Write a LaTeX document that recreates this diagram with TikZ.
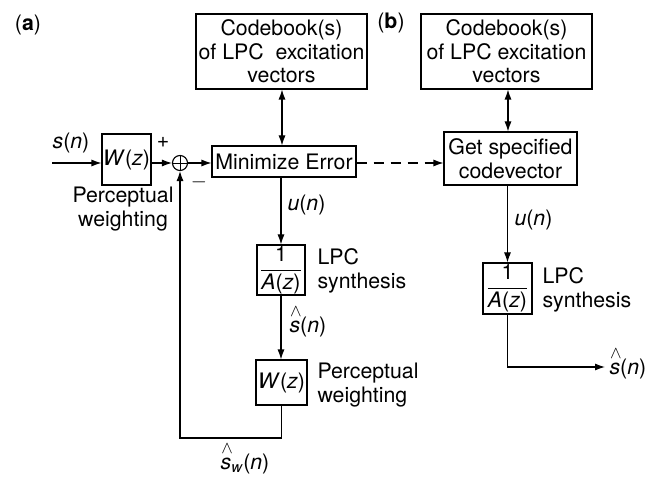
\documentclass[tikz,border=0pt]{standalone}
\usepackage{fontspec}
\setmainfont{TeX Gyre Heros}
\usetikzlibrary{arrows.meta}
\newcommand{\hs}{\makebox[0pt][l]{\makebox[0.6em]{\raisebox{0.72em}{\fontsize{16}{16}\selectfont$\wedge$}}}\textit{s}}
\newcommand{\invA}{$\displaystyle\frac{\mbox{1}}{\mbox{\itshape A\upshape(\itshape z\upshape)}}$}
\begin{document}
\begin{tikzpicture}[x=1pt,y=-1pt,
  font=\fontsize{21.3}{23.5}\selectfont,
  line width=1.1pt,
  >={Latex[length=10pt,width=7pt]},
  blk/.style={draw,inner sep=0pt,align=center},
  lbl/.style={inner sep=0pt,align=left,anchor=west},
  lblc/.style={inner sep=0pt,align=center}]
\useasboundingbox (0,0) rectangle (661,478);
% (a)
\node[lblc] (la) at (28,25) {(\textbf{a})};
\node[lblc] (lb) at (391,23) {(\textbf{b})};
\node[blk,minimum width=171pt,minimum height=75pt] (cba) at (281.5,51.5) {Codebook(s)\\of LPC\ \ excitation\\vectors};
\node[blk,minimum width=144pt,minimum height=31pt] (me) at (284,161.5) {Minimize Error};
\node[blk,minimum width=49pt,minimum height=51pt] (w1) at (126.5,159.5) {\textit{W}(\textit{z})};
\node[draw,circle,minimum size=15pt,inner sep=0pt] (sum) at (180,163) {};
\draw[line width=0.9pt] (sum.north) -- (sum.south) (sum.west) -- (sum.east);
\coordinate (in) at (52,163);
\node[lblc] (sn) at (71,143) {\textit{s}(\textit{n})};
\node[lblc] (plus) at (163,142) {+};
\node[lblc] (minus) at (199,182) {$-$};
\node[lblc] (pw1) at (123,209) {Perceptual\\weighting};
\node[blk,minimum width=48pt,minimum height=50pt] (a1) at (281,270) {\invA};
\node[lbl] (un1) at (287,205) {\textit{u}(\textit{n})};
\node[lbl] (lpc1) at (317,271) {LPC\\synthesis};
\node[lbl] (sh1) at (289,322) {\hs(\textit{n})};
\node[blk,minimum width=51pt,minimum height=45pt] (w2) at (281.5,382.5) {\textit{W}(\textit{z})};
\node[lbl] (pw2) at (317,385) {Perceptual\\weighting};
\coordinate (fb1) at (281.5,438);
\coordinate (fb2) at (180,438);
\node[lblc] (shw) at (245,459) {\hs\textsubscript{\textit{w}}(\textit{n})};
% (b)
\node[blk,minimum width=171pt,minimum height=75pt] (cbb) at (506.5,51.5) {Codebook(s)\\of LPC excitation\\vectors};
\node[blk,minimum width=133pt,minimum height=53pt] (gs) at (510.5,158.5) {Get specified\\codevector};
\node[blk,minimum width=49pt,minimum height=51pt] (a2) at (507.5,288.5) {\invA};
\node[lbl] (un2) at (514,220) {\textit{u}(\textit{n})};
\node[lbl] (lpc2) at (542,290) {LPC\\synthesis};
\coordinate (oc) at (507.5,367);
\coordinate (oe) at (605,367);
\node[lbl] (sh2) at (609,364) {\hs(\textit{n})};
% connectors
\draw[->] (in) -- (in -| w1.west);
\draw[->] (w1.east |- sum) -- (sum.west);
\draw[->] (sum.east) -- (sum -| me.west);
\draw[<->] (cba.south -| 282,0) -- (me.north -| 282,0);
\draw[->] (me.south -| 281,0) -- (a1.north);
\draw[->] (a1.south) -- (w2.north -| a1.south);
\draw[->] (w2.south) -- (fb1) -- (fb2) -- (sum.south);
\draw[->,dashed,dash pattern=on 10pt off 7pt] (me.east |- sum) -- (gs.west |- sum);
\draw[<->] (cbb.south -| 508,0) -- (gs.north -| 508,0);
\draw[->] (gs.south -| 507.5,0) -- (a2.north);
\draw[->] (a2.south) -- (oc) -- (oe);
\end{tikzpicture}
\end{document}
